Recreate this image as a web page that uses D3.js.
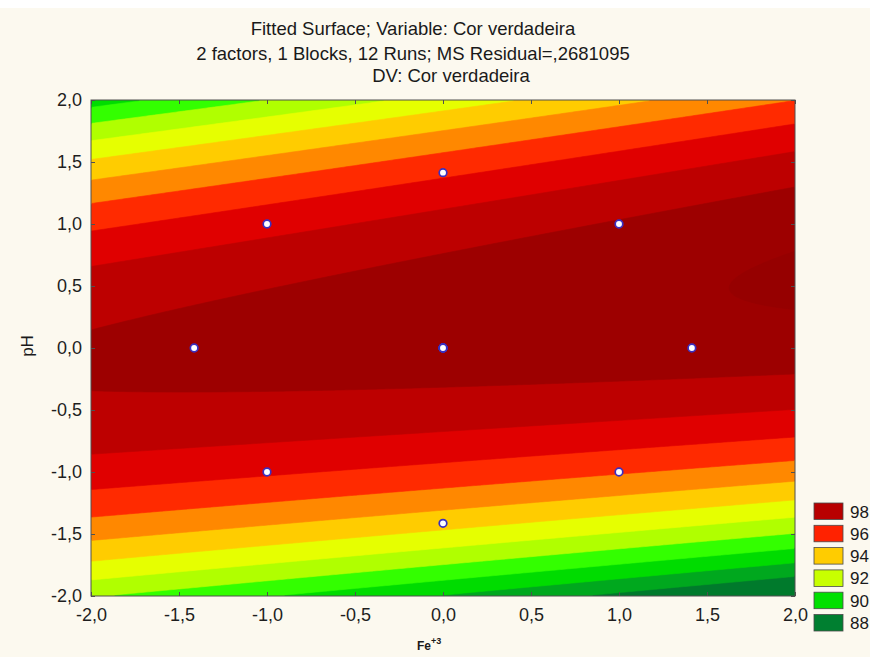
<!DOCTYPE html>
<html>
<head>
<meta charset="utf-8">
<script src="https://cdn.jsdelivr.net/npm/d3@7"></script>
<style>
  html, body { margin: 0; padding: 0; background: #fcf9ef; }
  svg { display: block; font-family: "Liberation Sans", Arial, sans-serif; }
</style>
</head>
<body>
<svg id="chart" width="870" height="657"></svg>
<script>
// Second-order fitted model, coded units: Cor verdadeira = f(Fe+3, pH)
const modelTerms = ["const", "Fe", "pH", "Fe^2", "pH^2", "Fe*pH"];
const modelCoef  = [98.47, 0.108, 0.868, -0.039, -1.95, 0.628];

// Central composite design, 12 runs (4 centre points)
const runFe = [-1, 1, -1, 1, -1.414, 1.414, 0, 0, 0, 0, 0, 0];
const runPH = [-1, -1, 1, 1, 0, 0, -1.414, 1.414, 0, 0, 0, 0];

// Contour levels and band fills (band i lies below contourLevels[i])
const contourLevels = [88, 89, 90, 91, 92, 93, 94, 95, 96, 97, 98, 99];
const bandColors = ["#007a2c", "#00a81e", "#00dc00", "#33ff00", "#b0ff00", "#e6ff00",
                    "#ffcc00", "#ff8800", "#ff2a00", "#e00000", "#bd0000", "#9d0000", "#960000"];

// Legend entries
const legendLevels = [98, 96, 94, 92, 90, 88];
const legendColors = ["#b80000", "#ff2200", "#ffcc00", "#c8ff00", "#00e000", "#007f30"];

// Axis ticks
const axisTicks = [-2, -1.5, -1, -0.5, 0, 0.5, 1, 1.5, 2];

const titleLines = [
  "Fitted Surface; Variable: Cor verdadeira",
  "2 factors, 1 Blocks, 12 Runs; MS Residual=,2681095",
  "DV: Cor verdadeira"
];

function model(fe, ph) {
  const t = [1, fe, ph, fe * fe, ph * ph, fe * ph];
  return d3.sum(t, (v, i) => v * modelCoef[i]);
}

const svg = d3.select("#chart");
const W = 870, H = 657;
const plot = { left: 91, right: 795, top: 100, bottom: 596 };

svg.append("rect").attr("width", W).attr("height", H).attr("fill", "#fcf9ef");
svg.append("rect").attr("width", W).attr("height", 8).attr("fill", "#ffffff");

const xs = d3.scaleLinear().domain([-2, 2]).range([plot.left, plot.right]);
const ys = d3.scaleLinear().domain([-2, 2]).range([plot.bottom, plot.top]);

// Sample the fitted surface on a grid (cell centres)
const nx = 352, ny = 248;
const values = new Float64Array(nx * ny);
for (let j = 0; j < ny; j++) {
  const ph = 2 - (j + 0.5) * 4 / ny;
  for (let i = 0; i < nx; i++) {
    const fe = -2 + (i + 0.5) * 4 / nx;
    values[j * nx + i] = model(fe, ph);
  }
}
const contours = d3.contours().size([nx, ny]).thresholds(contourLevels)(values);
const proj = d3.geoTransform({
  point(px, py) { this.stream.point(xs(-2 + px * 4 / nx), ys(2 - py * 4 / ny)); }
});
const path = d3.geoPath(proj);

svg.append("clipPath").attr("id", "plotClip")
  .append("rect")
  .attr("x", plot.left).attr("y", plot.top)
  .attr("width", plot.right - plot.left).attr("height", plot.bottom - plot.top);

const surf = svg.append("g").attr("clip-path", "url(#plotClip)");
surf.append("rect")
  .attr("x", plot.left).attr("y", plot.top)
  .attr("width", plot.right - plot.left).attr("height", plot.bottom - plot.top)
  .attr("fill", bandColors[0]);
surf.selectAll("path.band")
  .data(contours)
  .join("path")
  .attr("class", "band")
  .attr("d", path)
  .attr("fill", (d, i) => bandColors[i + 1])
  .attr("stroke", (d, i) => bandColors[i + 1])
  .attr("stroke-width", 0.6);

// Design points
svg.append("g").selectAll("circle")
  .data(d3.range(runFe.length))
  .join("circle")
  .attr("cx", i => xs(runFe[i]))
  .attr("cy", i => ys(runPH[i]))
  .attr("r", 3.8)
  .attr("fill", "#ffffff")
  .attr("stroke", "#3a2fc0")
  .attr("stroke-width", 1.7);

// Axes with inward ticks on all four sides; decimal comma, plain hyphen minus
const fmt = d => d3.format(".1f")(d).replace(".", ",").replace("\u2212", "-");
const axisColor = "#505050";

const gL = svg.append("g").attr("transform", `translate(${plot.left},0)`)
  .call(d3.axisLeft(ys).tickValues(axisTicks).tickFormat(fmt).tickSizeInner(-4).tickSizeOuter(0).tickPadding(9));
const gB = svg.append("g").attr("transform", `translate(0,${plot.bottom})`)
  .call(d3.axisBottom(xs).tickValues(axisTicks).tickFormat(fmt).tickSizeInner(-4).tickSizeOuter(0).tickPadding(12));
const gT = svg.append("g").attr("transform", `translate(0,${plot.top})`)
  .call(d3.axisTop(xs).tickValues(axisTicks).tickFormat("").tickSizeInner(-4).tickSizeOuter(0));
const gR = svg.append("g").attr("transform", `translate(${plot.right},0)`)
  .call(d3.axisRight(ys).tickValues(axisTicks).tickFormat("").tickSizeInner(-4).tickSizeOuter(0));

[gL, gB, gT, gR].forEach(g => {
  g.select(".domain").remove();
  g.selectAll(".tick line").attr("stroke", axisColor);
  g.selectAll(".tick text")
    .attr("fill", "#1e1e1e")
    .style("font-size", "18px")
    .style("font-family", "'Liberation Sans', Arial, sans-serif");
});

svg.append("rect")
  .attr("x", plot.left).attr("y", plot.top)
  .attr("width", plot.right - plot.left).attr("height", plot.bottom - plot.top)
  .attr("fill", "none").attr("stroke", axisColor).attr("stroke-width", 1);

// Titles
const titleG = svg.append("g").attr("fill", "#1a1a1a").style("font-size", "18.5px");
titleG.append("text").attr("x", 413).attr("y", 35).attr("text-anchor", "middle").text(titleLines[0]);
titleG.append("text").attr("x", 413).attr("y", 60).attr("text-anchor", "middle").text(titleLines[1]);
titleG.append("text").attr("x", 451).attr("y", 82).attr("text-anchor", "middle").text(titleLines[2]);

// Axis titles
svg.append("text")
  .attr("transform", "translate(33,346) rotate(-90)")
  .attr("text-anchor", "middle")
  .attr("fill", "#1a1a1a")
  .style("font-size", "17px")
  .text("pH");

const xt = svg.append("text")
  .attr("x", 417).attr("y", 650)
  .attr("fill", "#1a1a1a")
  .style("font-size", "12px")
  .style("font-weight", "bold");
xt.append("tspan").text("Fe");
xt.append("tspan").attr("dy", -6).style("font-size", "9px").text("+3");

// Legend
const lg = svg.append("g");
legendLevels.forEach((lv, i) => {
  const y = 503 + i * 22.3;
  lg.append("rect")
    .attr("x", 814).attr("y", y)
    .attr("width", 29).attr("height", 16.5)
    .attr("fill", legendColors[i])
    .attr("stroke", "#4a4a4a").attr("stroke-width", 0.8);
  lg.append("text")
    .attr("x", 850).attr("y", y + 14.5)
    .attr("fill", "#1a1a1a")
    .style("font-size", "17px")
    .text(lv);
});
</script>
</body>
</html>
